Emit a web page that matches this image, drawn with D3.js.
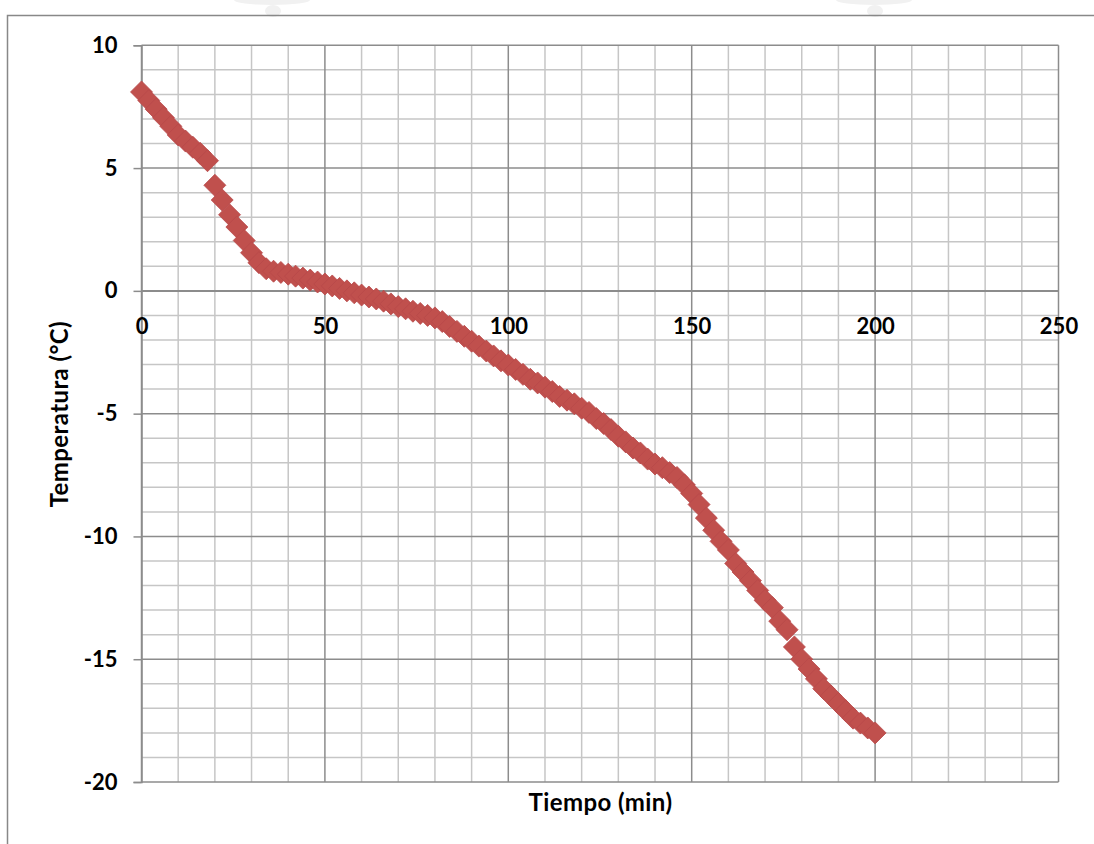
<!DOCTYPE html>
<html>
<head>
<meta charset="utf-8">
<script src="https://cdn.jsdelivr.net/npm/d3@7"></script>
<style>
  html, body { margin: 0; padding: 0; background: #fff; }
  svg { display: block; }
  text { font-family: Lato, "Open Sans", "Liberation Sans", sans-serif; font-weight: 700; fill: #000; }
</style>
</head>
<body>
<svg id="chart" width="1094" height="844"></svg>
<script>
// Cooling curve: temperature readings every 2 minutes
const tiempo = [
  0, 2, 4, 6, 8, 10, 12, 14, 16, 18,
  20, 22, 24, 26, 28, 30, 32, 34, 36, 38,
  40, 42, 44, 46, 48, 50, 52, 54, 56, 58,
  60, 62, 64, 66, 68, 70, 72, 74, 76, 78,
  80, 82, 84, 86, 88, 90, 92, 94, 96, 98,
  100, 102, 104, 106, 108, 110, 112, 114, 116, 118,
  120, 122, 124, 126, 128, 130, 132, 134, 136, 138,
  140, 142, 144, 146, 148, 150, 152, 154, 156, 158,
  160, 162, 164, 166, 168, 170, 172, 174, 176, 178,
  180, 182, 184, 186, 188, 190, 192, 194, 196, 198,
  200
];
const temperatura = [
  8.1, 7.75, 7.4, 7.05, 6.7, 6.35, 6.1, 5.85, 5.6, 5.3,
  4.3, 3.7, 3.1, 2.6, 2.05, 1.55, 1.15, 0.9, 0.8, 0.75,
  0.68, 0.6, 0.52, 0.44, 0.36, 0.28, 0.2, 0.1, 0.0, -0.08,
  -0.17, -0.25, -0.33, -0.42, -0.53, -0.64, -0.73, -0.83, -0.92, -1.0,
  -1.1, -1.25, -1.45, -1.65, -1.85, -2.05, -2.25, -2.45, -2.65, -2.85,
  -3.02, -3.2, -3.4, -3.6, -3.75, -3.92, -4.1, -4.3, -4.45, -4.6,
  -4.78, -4.95, -5.2, -5.4, -5.65, -5.92, -6.15, -6.4, -6.6, -6.85,
  -7.05, -7.2, -7.4, -7.6, -7.9, -8.25, -8.7, -9.25, -9.75, -10.2,
  -10.55, -11.1, -11.45, -11.8, -12.2, -12.6, -12.9, -13.45, -13.8, -14.5,
  -15.0, -15.4, -15.8, -16.2, -16.5, -16.8, -17.1, -17.4, -17.6, -17.8,
  -18.0
];

const xTicks = [0, 50, 100, 150, 200, 250];
const yTicks = [-20, -15, -10, -5, 0, 5, 10];
const xMinorStep = 10;
const yMinorStep = 1;
const xTitle = "Tiempo (min)";
const yTitle = "Temperatura (°C)";

const svg = d3.select("#chart");

// faint letterhead emblem peeking in at the top edge
const emblem = svg.append("g").attr("fill", "#f1f1f1");
[272, 874].forEach(cx => {
  emblem.append("ellipse").attr("cx", cx).attr("cy", 0).attr("rx", 38).attr("ry", 5);
  emblem.append("ellipse").attr("cx", cx + 1).attr("cy", 11).attr("rx", 8).attr("ry", 6);
});

// outer chart frame (runs off the right and bottom of the page)
svg.append("rect")
  .attr("x", 7.5).attr("y", 15.5)
  .attr("width", 1200).attr("height", 1000)
  .attr("fill", "none").attr("stroke", "#888").attr("stroke-width", 1.5);

const x = d3.scaleLinear().domain([0, 250]).range([141.5, 1058.5]);
const y = d3.scaleLinear().domain([-20, 10]).range([782, 45.3]);

const grid = svg.append("g");
const isMajorX = v => xTicks.includes(v);
const isMajorY = v => yTicks.includes(v);

const xGridVals = d3.range(x.domain()[0], x.domain()[1] + 0.001, xMinorStep);
const yGridVals = d3.range(y.domain()[0], y.domain()[1] + 0.001, yMinorStep);

// minor lines first, then major on top
grid.selectAll("line.vmin").data(xGridVals.filter(v => !isMajorX(v))).join("line")
  .attr("x1", d => x(d)).attr("x2", d => x(d))
  .attr("y1", y(10)).attr("y2", y(-20))
  .attr("stroke", "#c6c6c6").attr("stroke-width", 1.5);
grid.selectAll("line.hmin").data(yGridVals.filter(v => !isMajorY(v))).join("line")
  .attr("x1", x(0)).attr("x2", x(250))
  .attr("y1", d => y(d)).attr("y2", d => y(d))
  .attr("stroke", "#c6c6c6").attr("stroke-width", 1.5);
grid.selectAll("line.vmaj").data(xTicks).join("line")
  .attr("x1", d => x(d)).attr("x2", d => x(d))
  .attr("y1", y(10)).attr("y2", y(-20))
  .attr("stroke", "#8c8c8c").attr("stroke-width", 1.5);
grid.selectAll("line.hmaj").data(yTicks).join("line")
  .attr("x1", x(0)).attr("x2", x(250))
  .attr("y1", d => y(d)).attr("y2", d => y(d))
  .attr("stroke", "#8c8c8c").attr("stroke-width", 1.5);

const fmt = d => String(d);

// y axis with outward ticks
const yAxis = svg.append("g")
  .attr("transform", `translate(${x(0)},0)`)
  .call(d3.axisLeft(y).tickValues(yTicks).tickSize(8).tickPadding(16).tickFormat(fmt));
yAxis.select(".domain").attr("stroke", "#8c8c8c").attr("stroke-width", 1.5);
yAxis.selectAll(".tick line").attr("stroke", "#8c8c8c").attr("stroke-width", 1.5);
yAxis.selectAll(".tick text")
  .attr("font-family", null).attr("font-size", 22).style("font-weight", 700).attr("fill", "#000");

// x axis crossing at zero, labels set below the axis line
const xAxis = svg.append("g")
  .attr("transform", `translate(0,${y(0)})`)
  .call(d3.axisBottom(x).tickValues(xTicks).tickSize(0).tickPadding(28).tickFormat(fmt));
xAxis.select(".domain").attr("stroke", "#8c8c8c").attr("stroke-width", 1.5);
xAxis.selectAll(".tick text")
  .attr("font-family", null).attr("font-size", 22).style("font-weight", 700).attr("fill", "#000");

// series markers: diamonds
const pts = tiempo.map((t, i) => ({ t, v: temperatura[i] }));
const r = 11;
const diamond = `M0,${-r}L${r},0L0,${r}L${-r},0Z`;
svg.append("g").selectAll("path").data(pts).join("path")
  .attr("d", diamond)
  .attr("transform", d => `translate(${x(d.t)},${y(d.v)})`)
  .attr("fill", "#c0504d")
  .attr("stroke", "#b8494a").attr("stroke-width", 0.8);

// axis titles
svg.append("text")
  .attr("x", (x(0) + x(250)) / 2 + 0.5).attr("y", 811)
  .attr("text-anchor", "middle").attr("font-size", 24)
  .attr("letter-spacing", 0.4)
  .text(xTitle);
svg.append("text")
  .attr("transform", `translate(68,${(y(10) + y(-20)) / 2 + 0.5}) rotate(-90)`)
  .attr("text-anchor", "middle").attr("font-size", 24)
  .attr("letter-spacing", 0.4)
  .text(yTitle);
</script>
</body>
</html>
